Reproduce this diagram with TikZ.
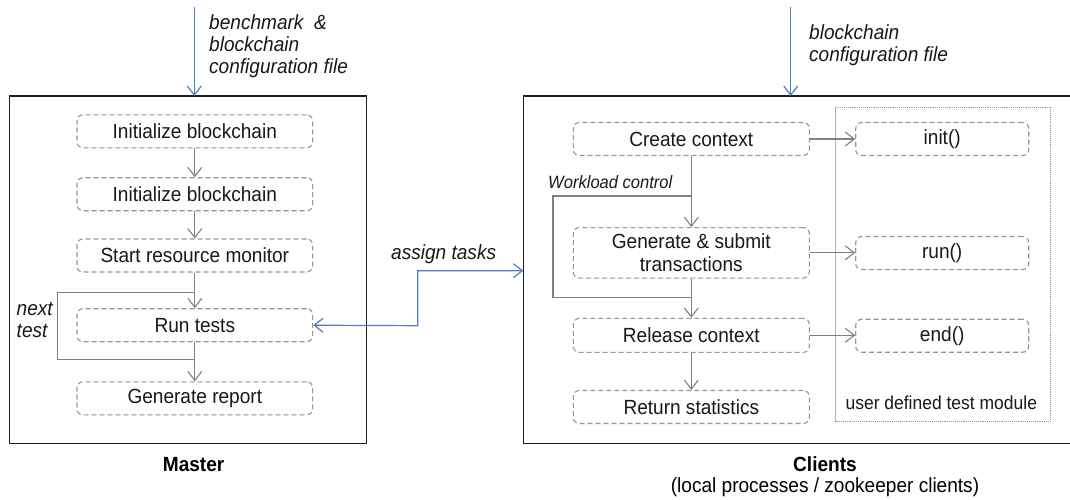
\documentclass[tikz,border=0pt]{standalone}
\usepackage{fontspec}
\setmainfont{Liberation Sans}[FakeStretch=0.93]
\usetikzlibrary{arrows.meta}
\definecolor{cblue}{RGB}{79,129,189}
\definecolor{cgray}{RGB}{128,128,128}
\definecolor{dgray}{RGB}{150,150,150}
\definecolor{frame}{RGB}{30,30,30}
\begin{document}
\begin{tikzpicture}[x=1pt,y=-1pt,
  stepbox/.style={draw=dgray, line width=1.1pt, dash pattern=on 5pt off 3pt, rounded corners=6pt,
    inner sep=0pt, align=center, font=\fontsize{20.5}{23}\selectfont, text=black!90},
  lbox/.style={stepbox, minimum width=235.7pt, minimum height=33pt},
  rbox/.style={stepbox, minimum width=236pt, minimum height=33pt},
  fbox/.style={stepbox, minimum width=173pt, minimum height=33pt},
  garrow/.style={draw=cgray, line width=1.1pt, -{Straight Barb[length=9pt,width=14pt,line width=1.1pt]}},
  gline/.style={draw=cgray, line width=1.1pt},
  barrow/.style={draw=cblue, line width=1.2pt, -{Straight Barb[length=9pt,width=14pt,line width=1.2pt]}},
  lab/.style={inner sep=0pt, font=\fontsize{20.5}{22}\selectfont\itshape, align=left, text=black!90},
  smalllab/.style={inner sep=0pt, font=\fontsize{17.8}{20}\selectfont\itshape, text=black!90},
  title/.style={inner sep=0pt, font=\fontsize{20.5}{22}\selectfont\bfseries}
]
\useasboundingbox (0,0) rectangle (1070,499);
\fill[white] (0,0) rectangle (1070,499);

% outer frames
\draw[frame, line width=1.5pt] (9.3,96) rectangle (366.7,443.3);
\draw[frame, line width=1.5pt] (1072,96) -- (523.3,96) -- (523.3,443.3) -- (1072,443.3);

% user defined module box
\draw[dgray, line width=0.9pt, densely dotted] (835.7,107) rectangle (1050.7,421);
\draw[black!30, line width=0.8pt] (835.7,107) -- (835.7,421);

% Master steps
\node[lbox] (m1) at (194.8,131.3) {Initialize blockchain};
\node[lbox] (m2) at (194.8,194.2) {Initialize blockchain};
\node[lbox] (m3) at (194.8,255.5) {Start resource monitor};
\node[lbox] (m4) at (194.8,325.2) {Run tests};
\node[lbox] (m5) at (194.8,398.3) {Generate report};

\draw[garrow] (m1) -- (m2);
\draw[garrow] (m2) -- (m3);
\draw[garrow] (m3) -- (m4);
\draw[garrow] (m4) -- (m5);
\coordinate (lt) at (194.8,292.3);
\coordinate (lb) at (194.8,359.3);
\draw[gline] (lb) -- (57.3,359.3) -- (57.3,292.3) -- (lt);

\node[lab, anchor=west] (nt) at (16.5,320) {next\\test};
\node[title] (master) at (193.6,465) {Master};

% input arrows
\coordinate (in1) at (194.3,7);
\coordinate (in1e) at (194.3,96);
\draw[barrow] (in1) -- (in1e);
\node[lab, anchor=north west] (inlab1) at (209,14) {benchmark\ \ \&\\blockchain\\configuration file};

\coordinate (in2) at (790.7,7);
\coordinate (in2e) at (790.7,96);
\draw[barrow] (in2) -- (in2e);
\node[lab, anchor=north west] (inlab2) at (809,24.5) {blockchain\\configuration file};

% Clients steps
\node[rbox] (c1) at (691.3,139) {Create context};
\node[rbox, minimum height=50.5pt] (c2) at (691.3,252.8) {Generate \& submit\\transactions};
\node[rbox, minimum height=34pt] (c3) at (691.3,335.3) {Release context};
\node[rbox] (c4) at (691.3,407) {Return statistics};

\node[fbox] (f1) at (942.2,139) {init()};
\node[fbox] (f2) at (942.2,253) {run()};
\node[fbox] (f3) at (942.2,335.7) {end()};

\draw[garrow] (c1) -- (c2);
\draw[garrow] (c2) -- (c3);
\draw[garrow] (c3) -- (c4);
\draw[garrow] (c1.east) -- (f1.west);
\draw[garrow] (c2.east) -- (c2.east -| f2.west);
\draw[garrow] (c3.east) -- (c3.east -| f3.west);

\coordinate (wt) at (691.3,196);
\coordinate (wb) at (691.3,297.7);
\draw[gline] (wb) -- (553,297.7) -- (553,196) -- (wt);
\node[smalllab, anchor=west] (wl) at (548,181.7) {Workload control};

\node[inner sep=0pt, font=\fontsize{18.8}{21}\selectfont, text=black!90] (udl) at (941.3,402.3) {user defined test module};

% assign tasks
\coordinate (cl) at (523.3,270.7);
\draw[cblue, line width=1.2pt, {Straight Barb[length=9pt,width=14pt,line width=1.2pt]}-{Straight Barb[length=9pt,width=14pt,line width=1.2pt]}]
  (m4.east) -- (417.7,325.7) -- (417.7,270.7) -- (cl);
\node[lab, anchor=base west] (at) at (391,259) {assign tasks};

\node[title] (clients) at (825,464) {Clients};
\node[inner sep=0pt, font=\fontsize{20.5}{22}\selectfont] (sub) at (825,487) {(local processes / zookeeper clients)};
\end{tikzpicture}
\end{document}
